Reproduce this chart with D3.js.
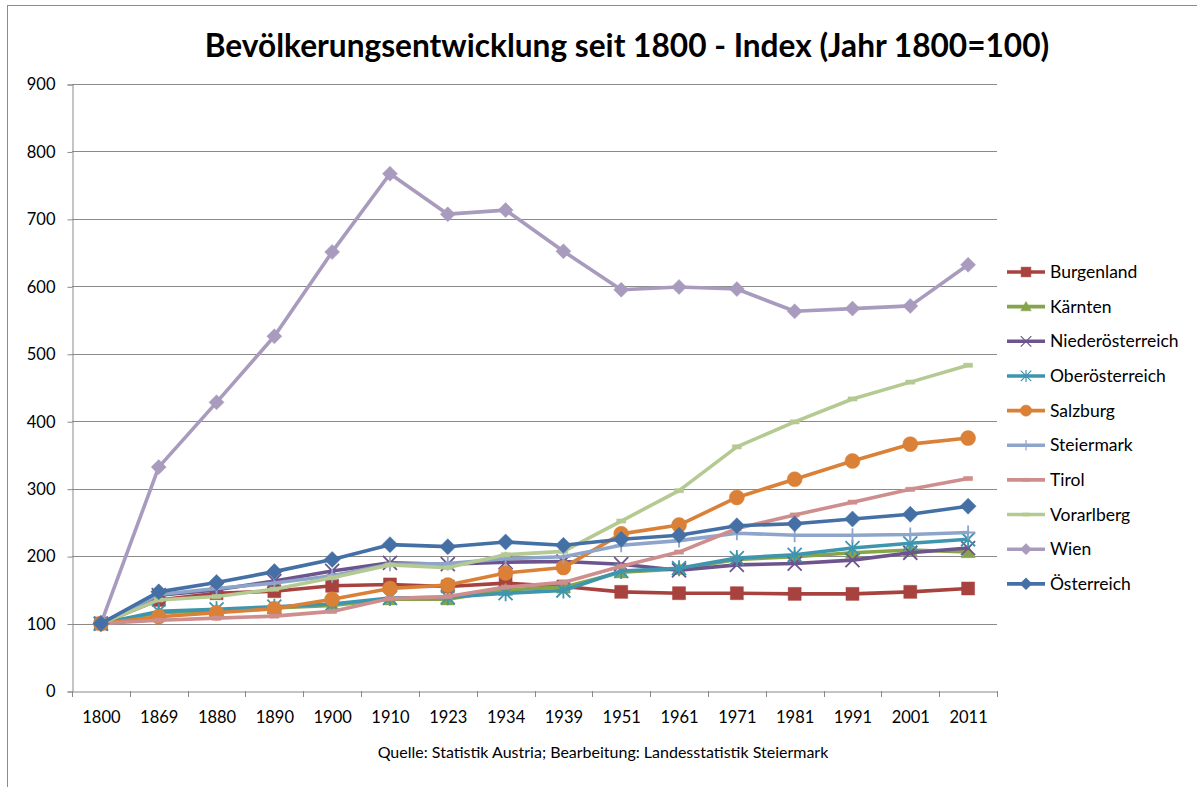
<!DOCTYPE html>
<html><head><meta charset="utf-8">
<script src="https://cdn.jsdelivr.net/npm/d3@7"></script>
<style>
html,body{margin:0;padding:0;background:#fff;}
svg{display:block;font-family:Lato,"Open Sans",sans-serif;}
</style></head>
<body>
<svg id="chart" width="1197" height="787"></svg>
<script>
const years = ["1800","1869","1880","1890","1900","1910","1923","1934","1939","1951","1961","1971","1981","1991","2001","2011"];
const yTicks = [0,100,200,300,400,500,600,700,800,900];
const seriesNames = ["Burgenland","Kärnten","Niederösterreich","Oberösterreich","Salzburg","Steiermark","Tirol","Vorarlberg","Wien","Österreich"];
const burgenland = [100,135,145,148,156,158,155,160,155,147,145,145,144,144,147,152];
const kaernten   = [100,116,119,123,127,136,136,150,154,176,181,195,199,205,209,206];
const niederoe   = [100,142,150,163,178,190,188,191,192,188,179,187,189,194,205,212];
const oberoe     = [100,118,121,125,129,138,139,145,149,178,182,197,202,212,219,225];
const salzburg   = [100,110,116,122,136,152,157,175,183,233,246,287,314,341,366,375];
const steiermark = [100,143,152,160,171,188,189,196,199,216,223,234,231,231,232,235];
const tirol      = [100,105,108,111,118,137,140,154,161,185,206,241,261,280,299,315];
const vorarlberg = [100,135,140,151,168,187,183,202,207,252,297,362,399,433,458,483];
const wien       = [100,332,428,526,651,767,707,713,652,595,599,596,563,567,571,632];
const oesterreich= [100,147,161,177,195,217,214,221,216,225,231,245,248,255,262,274];
const titleText = "Bevölkerungsentwicklung seit 1800 - Index (Jahr 1800=100)";
const sourceText = "Quelle: Statistik Austria; Bearbeitung: Landesstatistik Steiermark";

const values = [burgenland,kaernten,niederoe,oberoe,salzburg,steiermark,tirol,vorarlberg,wien,oesterreich];
const colors = ["#A8423F","#86A44A","#6E548D","#3D96AE","#DA8137","#8EA5CB","#CE8E8D","#B5CA92","#A99BBD","#4470A5"];
const markers = ["square","triangle","x","asterisk","circle","plus","dash","dash","diamond","diamond"];
const series = seriesNames.map((n,i)=>({name:n,values:values[i],color:colors[i],marker:markers[i]}));

const svg = d3.select("#chart");
svg.append("rect").attr("x",7.5).attr("y",5.5).attr("width",1210).attr("height",800)
  .attr("fill","none").attr("stroke","#8c8c8c").attr("stroke-width",1);

const pL=72, pR=997, pT=84, pB=691;
const x = d3.scaleBand().domain(years).range([pL,pR]);
const y = d3.scaleLinear().domain([0,900]).range([pB,pT]);

svg.append("g").selectAll("line").data(yTicks.filter(t=>t>0)).join("line")
  .attr("x1",pL).attr("x2",pR).attr("y1",d=>Math.round(y(d))+0.5).attr("y2",d=>Math.round(y(d))+0.5)
  .attr("stroke","#8a8a8a").attr("stroke-width",1);

const yAxis = svg.append("g").attr("transform",`translate(${pL+0.5},0.5)`)
  .call(d3.axisLeft(y).tickValues(yTicks).tickSize(5).tickPadding(12).tickFormat(d3.format("d")));
yAxis.select(".domain").attr("stroke","#8a8a8a");
yAxis.selectAll(".tick line").attr("stroke","#8a8a8a");
yAxis.selectAll(".tick text").attr("font-size",16.5).attr("font-family","Lato").attr("fill","#000");

const xAxis = svg.append("g").attr("transform",`translate(0.5,${pB+0.5})`)
  .call(d3.axisBottom(x).tickSize(0).tickPadding(20));
xAxis.select(".domain").attr("stroke","#8a8a8a");
xAxis.selectAll(".tick text").attr("font-size",16.5).attr("font-family","Lato").attr("fill","#000");
svg.append("g").selectAll("line").data(years.concat(["end"])).join("line")
  .attr("x1",(d,i)=>Math.round(pL + i*x.step())+0.5).attr("x2",(d,i)=>Math.round(pL + i*x.step())+0.5)
  .attr("y1",pB).attr("y2",pB+6).attr("stroke","#8a8a8a");

function markerPath(type, s){
  switch(type){
    case "square": return `M${-s},${-s}h${2*s}v${2*s}h${-2*s}Z`;
    case "triangle": return `M0,${-s}L${s},${s*0.8}L${-s},${s*0.8}Z`;
    case "x": return `M${-s},${-s}L${s},${s}M${-s},${s}L${s},${-s}`;
    case "asterisk": return `M${-s},${-s}L${s},${s}M${-s},${s}L${s},${-s}M0,${-s*1.15}L0,${s*1.15}`;
    case "plus": return `M${-s},0L${s},0M0,${-s}L0,${s}`;
    case "dash": return `M${-s*0.75},${-s*0.35}h${1.5*s}v${0.7*s}h${-1.5*s}Z`;
    case "diamond": return `M0,${-s}L${s},0L0,${s}L${-s},0Z`;
    case "circle": return d3.symbol(d3.symbolCircle, Math.PI*s*s)();
  }
}
const strokeMarkers = new Set(["x","asterisk","plus"]);
function markerSize(sr, legend){
  const base = {square:6.5,triangle:7,x:7,asterisk:7,plus:7,dash:6,diamond:8,circle:7.5}[sr.marker];
  let s = sr.name==="Wien" ? 7.5 : base;
  return legend ? s*0.75 : s;
}

const line = d3.line().x((d,i)=>x(years[i])+x.bandwidth()/2).y(d=>y(d));
const plot = svg.append("g");
series.forEach(sr=>{
  const g = plot.append("g");
  g.append("path").attr("d",line(sr.values)).attr("fill","none").attr("stroke",sr.color)
    .attr("stroke-width",3.6).attr("stroke-linejoin","round").attr("stroke-linecap","round");
  const s = markerSize(sr,false);
  g.selectAll("path.m").data(sr.values).join("path").attr("class","m")
    .attr("transform",(d,i)=>`translate(${x(years[i])+x.bandwidth()/2},${y(d)})`)
    .attr("d",markerPath(sr.marker,s))
    .attr("fill",strokeMarkers.has(sr.marker)?"none":sr.color)
    .attr("stroke",sr.color).attr("stroke-width",strokeMarkers.has(sr.marker)?1.8:0.5);
});

const lg = svg.append("g");
series.forEach((sr,i)=>{
  const cy = 272 + i*34.65;
  lg.append("line").attr("x1",1007).attr("x2",1045).attr("y1",cy).attr("y2",cy)
    .attr("stroke",sr.color).attr("stroke-width",3.6);
  const s = markerSize(sr,true);
  lg.append("path").attr("transform",`translate(1026,${cy})`).attr("d",markerPath(sr.marker,s))
    .attr("fill",strokeMarkers.has(sr.marker)?"none":sr.color).attr("stroke",sr.color)
    .attr("stroke-width",strokeMarkers.has(sr.marker)?1.2:0.5);
  lg.append("text").attr("x",1050).attr("y",cy).attr("dy","0.35em").attr("font-size",17.5)
    .attr("font-family","Lato").attr("fill","#000").text(sr.name);
});

const t = svg.append("text").attr("x",627).attr("y",57).attr("text-anchor","middle")
  .attr("font-size",31).attr("font-weight","bold").attr("font-family","Lato").attr("fill","#000").text(titleText);
const tw = t.node().getComputedTextLength();
if (tw>0) t.attr("font-size", 31*845/tw);

svg.append("text").attr("x",603).attr("y",758).attr("text-anchor","middle")
  .attr("font-size",16).attr("font-family","Lato").attr("fill","#000").text(sourceText);
</script>
</body></html>
